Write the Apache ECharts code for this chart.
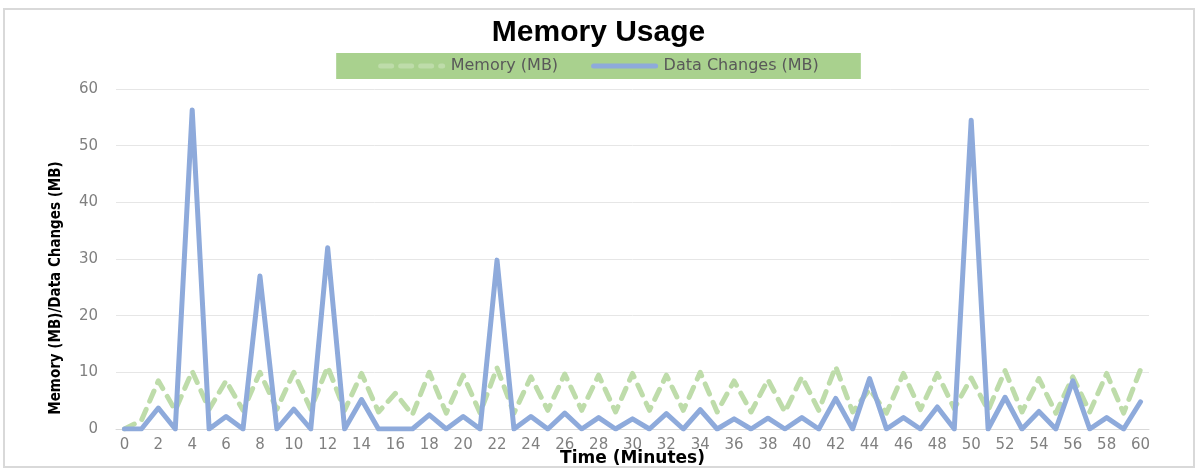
<!DOCTYPE html>
<html>
<head>
<meta charset="utf-8">
<title>Memory Usage</title>
<script src="https://cdn.jsdelivr.net/npm/echarts@6/dist/echarts.min.js"></script>
<style>
  body { margin: 0; background: #fff; }
  #chart { width: 1197px; height: 468px; }
</style>
</head>
<body>
<div id="chart"></div>
<script>
// minutes on the x axis
var minutes = ['0','1','2','3','4','5','6','7','8','9','10','11','12','13','14','15','16','17','18','19','20',
  '21','22','23','24','25','26','27','28','29','30','31','32','33','34','35','36','37','38','39','40',
  '41','42','43','44','45','46','47','48','49','50','51','52','53','54','55','56','57','58','59','60'];

// Memory (MB)
var memory = [0, 1.5, 8.5, 3.3, 10.2, 3.5, 8.5, 3.3, 10, 3.5, 10, 3.5, 11, 3.3, 9.8, 3.0, 6.3, 2.5, 10, 2.8, 9.5,
  2.8, 10.8, 2.8, 9.2, 3.3, 9.7, 3.3, 9.5, 3.0, 9.8, 3.3, 9.5, 3.3, 10, 3.0, 8.5, 3.0, 8.7, 3.0, 9.2,
  3.3, 11, 3.0, 7, 2.8, 9.8, 3.4, 9.8, 3.6, 9, 3.3, 10.3, 3.0, 8.9, 2.8, 9.2, 3.0, 9.8, 2.8, 10.5];

// Data Changes (MB)
var dataChanges = [0, 0, 3.7, 0, 56.3, 0, 2.2, 0, 27, 0, 3.5, 0, 32, 0, 5.2, 0, 0, 0, 2.5, 0, 2.2,
  0, 29.8, 0, 2.2, 0, 2.8, 0, 2.0, 0, 1.8, 0, 2.7, 0, 3.4, 0, 1.8, 0, 1.9, 0, 2.0,
  0, 5.4, 0, 8.9, 0, 2.0, 0, 3.9, 0, 54.5, 0, 5.6, 0, 3.1, 0, 8.5, 0, 2.0, 0, 4.8];

var chart = echarts.init(document.getElementById('chart'));

var option = {
  backgroundColor: '#fff',
  animation: false,
  title: {
    text: 'Memory Usage',
    left: 'center',
    top: 13,
    textStyle: {
      fontFamily: 'Liberation Sans',
      fontWeight: 'bold',
      fontSize: 30,
      color: '#000'
    }
  },
  legend: {
    top: 53,
    left: 'center',
    backgroundColor: '#a9d18e',
    padding: [5, 42],
    itemWidth: 62,
    itemHeight: 14,
    itemGap: 33,
    itemStyle: { opacity: 0 },
    lineStyle: { width: 5, cap: 'round' },
    textStyle: {
      fontFamily: 'DejaVu Sans',
      fontSize: 16,
      color: '#595959',
      padding: [0, 0, 0, 3]
    }
  },
  grid: {
    left: 116,
    right: 48,
    top: 89,
    bottom: 39,
    outerBoundsMode: 'none'
  },
  xAxis: {
    type: 'category',
    data: minutes,
    boundaryGap: true,
    name: 'Time (Minutes)',
    nameLocation: 'middle',
    nameGap: 21,
    nameMoveOverlap: false,
    nameTextStyle: {
      fontFamily: 'DejaVu Sans',
      fontWeight: 'bold',
      fontSize: 17,
      color: '#000'
    },
    axisLine: { lineStyle: { color: '#d9d9d9' } },
    axisTick: { show: false },
    axisLabel: {
      interval: 1,
      margin: 9,
      fontFamily: 'DejaVu Sans',
      fontSize: 15,
      color: '#808080'
    }
  },
  yAxis: {
    type: 'value',
    min: 0,
    max: 60,
    interval: 10,
    name: 'Memory (MB)/Data Changes (MB)',
    nameLocation: 'middle',
    nameGap: 52,
    nameTextStyle: {
      fontFamily: '"DejaVu Sans Condensed", "Liberation Sans", sans-serif',
      fontWeight: 'bold',
      fontSize: 15,
      color: '#000',
      padding: [0, 58, 0, 0]
    },
    axisLabel: {
      margin: 18,
      fontFamily: 'DejaVu Sans',
      fontSize: 15,
      color: '#808080'
    },
    splitLine: { lineStyle: { color: '#e6e6e6' } }
  },
  graphic: [{
    type: 'rect',
    z: -1,
    shape: { x: 4, y: 9, width: 1190, height: 458 },
    style: { fill: 'none', stroke: '#d9d9d9', lineWidth: 2 }
  }],
  series: [
    {
      name: 'Memory (MB)',
      type: 'line',
      data: memory,
      symbol: 'none',
      color: '#bedcaa',
      lineStyle: {
        color: '#bedcaa',
        width: 5,
        type: [11, 9],
        cap: 'round',
        join: 'round'
      }
    },
    {
      name: 'Data Changes (MB)',
      type: 'line',
      data: dataChanges,
      symbol: 'none',
      color: '#8eaadb',
      lineStyle: {
        color: '#8eaadb',
        width: 5,
        cap: 'round',
        join: 'round'
      }
    }
  ]
};

option && chart.setOption(option);
</script>
</body>
</html>
